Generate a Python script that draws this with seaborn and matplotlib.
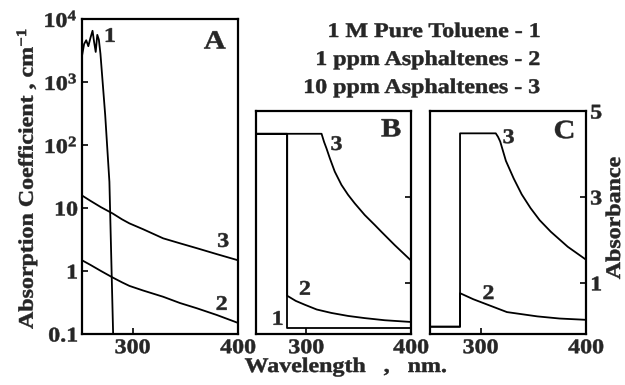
import numpy as np
import pandas as pd
import matplotlib
matplotlib.use("Agg")
import matplotlib.pyplot as plt
from matplotlib.path import Path
from matplotlib.transforms import Affine2D
from matplotlib.patheffects import AbstractPathEffect
import seaborn as sns

# ---- data -------------------------------------------------------------
# Panel A: absorption coefficient (cm^-1), log scale
a_wl_1 = [252, 254, 256, 258, 260, 262, 263.5, 265, 266.5, 268, 269.5, 274, 278, 281.6]
a_val_1 = [2600, 4000, 4600, 3700, 5000, 6500, 4300, 3000, 5600, 4700, 2800, 300, 26, 0.09]

a_wl_2 = [252, 260, 270, 281, 290, 297, 310, 329, 345, 361, 380, 400]
a_val_2 = [1.48, 1.25, 1.0, 0.79, 0.66, 0.58, 0.49, 0.39, 0.31, 0.256, 0.2, 0.15]

a_wl_3 = [252, 260, 270, 281, 290, 297, 310, 329, 345, 361, 380, 400]
a_val_3 = [15.8, 13.0, 10.3, 8.2, 6.6, 5.7, 4.6, 3.3, 2.75, 2.3, 1.85, 1.48]

# Panel B: absorbance
b_wl_1 = [252, 281.8, 281.8, 400]
b_val_1 = [4.47, 4.47, -0.04, -0.04]

b_wl_2 = [252, 281.8, 281.8, 290, 298.7, 310, 324, 340, 355.8, 375, 400]
b_val_2 = [4.47, 4.47, 0.70, 0.58, 0.49, 0.38, 0.30, 0.23, 0.18, 0.13, 0.09]

b_wl_3 = [252, 314.6, 317, 319.3, 322.5, 327.2, 333.6, 339.9, 346.3, 355.8, 365.3,
          371.7, 384.4, 400]
b_val_3 = [4.47, 4.47, 4.28, 4.13, 3.90, 3.59, 3.28, 3.05, 2.85, 2.58, 2.35,
           2.19, 1.88, 1.52]

# Panel C: absorbance, toluene subtracted
c_wl_2 = [252, 280.5, 280.5, 293, 305.8, 325, 353.8, 375, 400]
c_val_2 = [-0.02, -0.02, 0.76, 0.62, 0.50, 0.32, 0.22, 0.17, 0.14]

c_wl_3 = [252, 280.5, 280.5, 314.4, 316.5, 318.6, 324, 331.4, 339, 347.4, 356,
          366.6, 382.7, 400]
c_val_3 = [-0.02, -0.02, 4.48, 4.48, 4.40, 4.29, 3.84, 3.43, 3.06, 2.74, 2.46,
           2.19, 1.84, 1.54]

legend_lines = ["1 M Pure Toluene - 1", "1 ppm Asphaltenes - 2", "10 ppm Asphaltenes - 3"]

# ---- style ------------------------------------------------------------
sns.set_style("ticks")
plt.rcParams["font.family"] = ["Liberation Serif", "DejaVu Serif"]
plt.rcParams["font.weight"] = "bold"
plt.rcParams["mathtext.fontset"] = "custom"
plt.rcParams["mathtext.rm"] = "Liberation Serif:bold"
plt.rcParams["mathtext.bf"] = "Liberation Serif:bold"
plt.rcParams["mathtext.it"] = "Liberation Serif:bold"
plt.rcParams["mathtext.default"] = "rm"

FS = 15
LW = 1.3


class WideText(AbstractPathEffect):
    """Draw glyphs widened along the text direction, with a light outline."""

    def __init__(self, sx=1.15, anchor="center", stroke=0.35):
        super().__init__()
        self.sx = sx
        self.anchor = anchor
        self.stroke = stroke

    def draw_path(self, renderer, gc, tpath, affine, rgbFace=None):
        v = tpath.vertices
        if tpath.codes is not None:
            v = v[tpath.codes != Path.CLOSEPOLY]
        x0, x1 = v[:, 0].min(), v[:, 0].max()
        ref = {"left": 0.0, "center": 0.5 * (x0 + x1), "right": x1}[self.anchor]
        pre = Affine2D().translate(-ref, 0).scale(self.sx, 1).translate(ref, 0)
        gc0 = renderer.new_gc()
        gc0.copy_properties(gc)
        if rgbFace is not None and self.stroke > 0:
            gc0.set_foreground(rgbFace)
            gc0.set_linewidth(self.stroke)
        renderer.draw_path(gc0, tpath, pre + affine, rgbFace)
        gc0.restore()


W, H = 625, 385
fig = plt.figure(figsize=(W / 100, H / 100), dpi=100)


def px_axes(x0, y0, x1, y1):
    return fig.add_axes([x0 / W, 1 - y1 / H, (x1 - x0) / W, (y1 - y0) / H])


def style_axes(ax):
    for s in ax.spines.values():
        s.set_linewidth(1.6)
        s.set_color("black")
    ax.tick_params(direction="in", length=4, width=1.4, labelsize=FS, pad=3)
    ax.set_xlim(252, 400)
    ax.set_xticks([300, 400])
    ax.set_xlabel("")
    ax.set_ylabel("")


def draw(ax, wl, val):
    df = pd.DataFrame({"wl": wl, "val": val})
    sns.lineplot(data=df, x="wl", y="val", ax=ax, color="black", lw=LW,
                 sort=False, estimator=None)


# Panel A
axA = px_axes(82, 19, 238, 334)
draw(axA, a_wl_1, a_val_1)
draw(axA, a_wl_2, a_val_2)
draw(axA, a_wl_3, a_val_3)
axA.set_yscale("log")
axA.set_ylim(0.1, 1e4)
style_axes(axA)
axA.set_yticks([0.1, 1, 10, 100, 1000, 10000])
axA.set_yticklabels(["0.1", "1", "10", "10$^{2}$", "10$^{3}$", "10$^{4}$"])
axA.yaxis.set_minor_locator(matplotlib.ticker.NullLocator())
axA.text(378, 4300, "A", fontsize=19, ha="center", va="center")
axA.text(278.5, 5200, "1", fontsize=FS, ha="center", va="center")
axA.text(386, 2.9, "3", fontsize=FS, ha="center", va="center")
axA.text(384.5, 0.29, "2", fontsize=FS, ha="center", va="center")

# Panel B
axB = px_axes(256, 111, 411, 334)
draw(axB, b_wl_1, b_val_1)
draw(axB, b_wl_2, b_val_2)
draw(axB, b_wl_3, b_val_3)
axB.set_ylim(-0.19, 5)
style_axes(axB)
axB.set_yticks([1, 3, 5])
axB.yaxis.tick_right()
axB.tick_params(axis="y", labelright=False)
axB.text(381, 4.56, "B", fontsize=19, ha="center", va="center")
axB.text(328.9, 4.21, "3", fontsize=FS, ha="center", va="center")
axB.text(298.7, 0.84, "2", fontsize=FS, ha="center", va="center")
axB.text(272.7, 0.14, "1", fontsize=FS, ha="center", va="center")

# Panel C
axC = px_axes(430, 111, 586, 334)
draw(axC, c_wl_2, c_val_2)
draw(axC, c_wl_3, c_val_3)
axC.set_ylim(-0.19, 5)
style_axes(axC)
axC.set_yticks([1, 3, 5])
axC.yaxis.tick_right()
axC.text(379.5, 4.52, "C", fontsize=19, ha="center", va="center")
axC.text(326.6, 4.37, "3", fontsize=FS, ha="center", va="center")
axC.text(307.4, 0.74, "2", fontsize=FS, ha="center", va="center")

# Axis titles and key
fig.text(27 / W, 1 - 178 / H, "Absorption Coefficient , cm$^{-1}$", rotation=90,
         fontsize=FS, ha="center", va="center")
fig.text(615 / W, 1 - 218 / H, "Absorbance", rotation=90,
         fontsize=FS, ha="center", va="center")
fig.text(346 / W, 1 - 367 / H, "Wavelength   ,   nm.", fontsize=FS,
         ha="center", va="center")
for i, line in enumerate(legend_lines):
    fig.text(541 / W, 1 - (32 + 28 * i) / H, line, fontsize=FS,
             ha="right", va="center")

# Broad, heavy lettering for every piece of text
texts = list(fig.texts)
for ax in (axA, axB, axC):
    texts += list(ax.texts) + ax.get_xticklabels() + ax.get_yticklabels()
for t in texts:
    anchor = "center" if t.get_rotation() != 0 else t.get_ha()
    t.set_path_effects([WideText(anchor=anchor)])

fig.savefig("out.png", dpi=100)
